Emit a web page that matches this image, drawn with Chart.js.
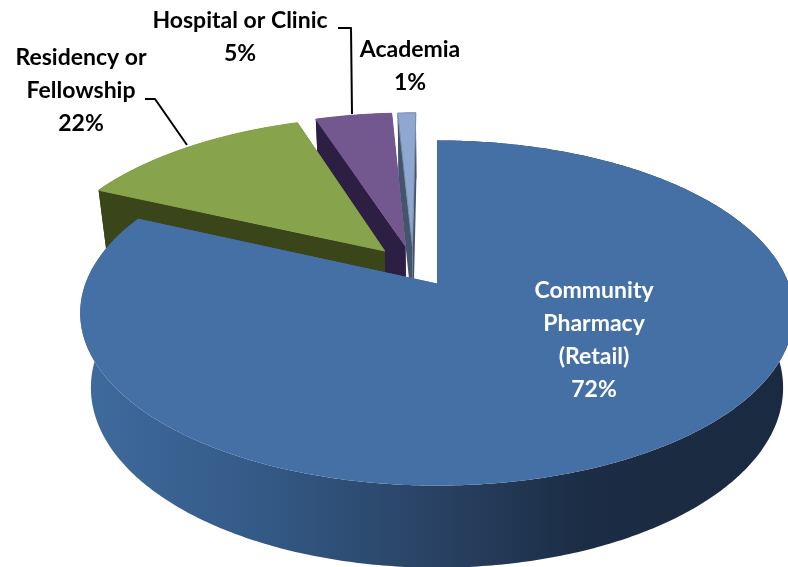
<!DOCTYPE html>
<html><head><meta charset="utf-8">
<style>html,body{margin:0;padding:0;background:#fff}#wrap{width:788px;height:567px;position:relative;overflow:hidden}</style>
<script src="https://cdn.jsdelivr.net/npm/chart.js@4"></script>
</head><body><div id="wrap"><canvas id="c" width="788" height="567"></canvas></div>
<script>
const categories = ['Community Pharmacy (Retail)', 'Residency or Fellowship', 'Hospital or Clinic', 'Academia'];
const drawnShares = [81.8, 13, 4.2, 1];
const printedPercents = ['72%', '22%', '5%', '1%'];
const topColors = ['#4570a6', '#87a34c', '#72588f', '#8ea8d2'];
const edgeColors = ['#4570a6', '#3a4519', '#2c1f43', '#43546e'];
const labelLines = [['Community', 'Pharmacy', '(Retail)'], ['Residency or', 'Fellowship'], ['Hospital or Clinic'], ['Academia']];

const view = { kx: 1.24, ky: 0.591, tilt: 0.171, depth: 0.27, shrink: 0.03, explode: 0.127 };

function projector(arc, off) {
  const R = arc.outerRadius;
  return (u, v, z) => {
    const U = u + off[0], V = v + off[1];
    const w = 1 - view.tilt * V + view.shrink * z;
    return [arc.x + R * view.kx * U / w, arc.y + R * (view.ky * V + view.depth * z) / w];
  };
}
function trace(ctx, pts) {
  ctx.beginPath();
  pts.forEach((p, i) => i ? ctx.lineTo(p[0], p[1]) : ctx.moveTo(p[0], p[1]));
  ctx.closePath();
}
function midDir(arc) {
  const m = (arc.startAngle + arc.endAngle) / 2;
  return [Math.cos(m), Math.sin(m)];
}
const pie3d = {
  id: 'pie3d',
  beforeDatasetsDraw(chart) {
    const ctx = chart.ctx, arcs = chart.getDatasetMeta(0).data;
    const d0 = midDir(arcs[0]);
    const order = arcs.map((_, i) => i).reverse();
    ctx.save();
    order.forEach(i => {
      const arc = arcs[i], d = midDir(arc);
      const off = [view.explode * (d[0] - d0[0]), view.explode * (d[1] - d0[1])];
      const P = projector(arc, off);
      const rim = [];
      const n = Math.max(2, Math.ceil((arc.endAngle - arc.startAngle) * 90));
      for (let k = 0; k <= n; k++) {
        const a = arc.startAngle + (arc.endAngle - arc.startAngle) * k / n;
        rim.push([Math.cos(a), Math.sin(a)]);
      }
      const first = rim[0], last = rim[n];
      // far radial wall, near radial wall
      [last, first].forEach(e => {
        trace(ctx, [P(0, 0, 0), P(e[0], e[1], 0), P(e[0], e[1], 1), P(0, 0, 1)]);
        ctx.fillStyle = edgeColors[i];
        ctx.fill();
      });
      // outer wall
      const wall = rim.map(r => P(r[0], r[1], 0)).concat(rim.slice().reverse().map(r => P(r[0], r[1], 1)));
      trace(ctx, wall);
      if (i === 0) {
        const g = ctx.createLinearGradient(80, 0, 788, 0);
        g.addColorStop(0, '#3f6b9e');
        g.addColorStop(0.25, '#345a87');
        g.addColorStop(0.48, '#2a4466');
        g.addColorStop(0.72, '#1b2c44');
        g.addColorStop(1, '#1a2a40');
        ctx.fillStyle = g;
      } else ctx.fillStyle = edgeColors[i];
      ctx.fill();
      // top face
      trace(ctx, [P(0, 0, 0)].concat(rim.map(r => P(r[0], r[1], 0))));
      ctx.fillStyle = topColors[i];
      ctx.fill();
      if (i > 0) { ctx.strokeStyle = i === 3 ? '#7f8ea6' : topColors[i]; ctx.lineWidth = 1; ctx.stroke(); }
    });
    ctx.restore();
    return false;
  },
  afterDraw(chart) {
    const ctx = chart.ctx;
    ctx.save();
    ctx.strokeStyle = '#000'; ctx.lineWidth = 2; ctx.lineJoin = 'round';
    [[[338, 28], [351, 28], [352, 114]], [[145, 99], [155, 99], [187, 145]]].forEach(l => {
      ctx.beginPath();
      l.forEach((p, i) => i ? ctx.lineTo(p[0], p[1]) : ctx.moveTo(p[0], p[1]));
      ctx.stroke();
    });
    ctx.font = 'bold 23px Lato';
    ctx.textAlign = 'center'; ctx.textBaseline = 'middle';
    const spots = [[594, 291, 33, '#fff'], [81, 58, 33, '#000'], [240, 21, 33, '#000'], [410, 50, 33, '#000']];
    categories.forEach((_, i) => {
      const s = spots[i];
      ctx.fillStyle = s[3];
      labelLines[i].concat(printedPercents[i]).forEach((t, k) => ctx.fillText(t, s[0], s[1] + k * s[2]));
    });
    ctx.restore();
  }
};
new Chart(document.getElementById('c'), {
  type: 'pie',
  data: { labels: categories, datasets: [{ data: drawnShares, backgroundColor: topColors, borderWidth: 0 }] },
  options: {
    responsive: false, animation: false,
    layout: { padding: { left: 86 } },
    plugins: { legend: { display: false }, tooltip: { enabled: false } }
  },
  plugins: [pie3d]
});
</script></body></html>
